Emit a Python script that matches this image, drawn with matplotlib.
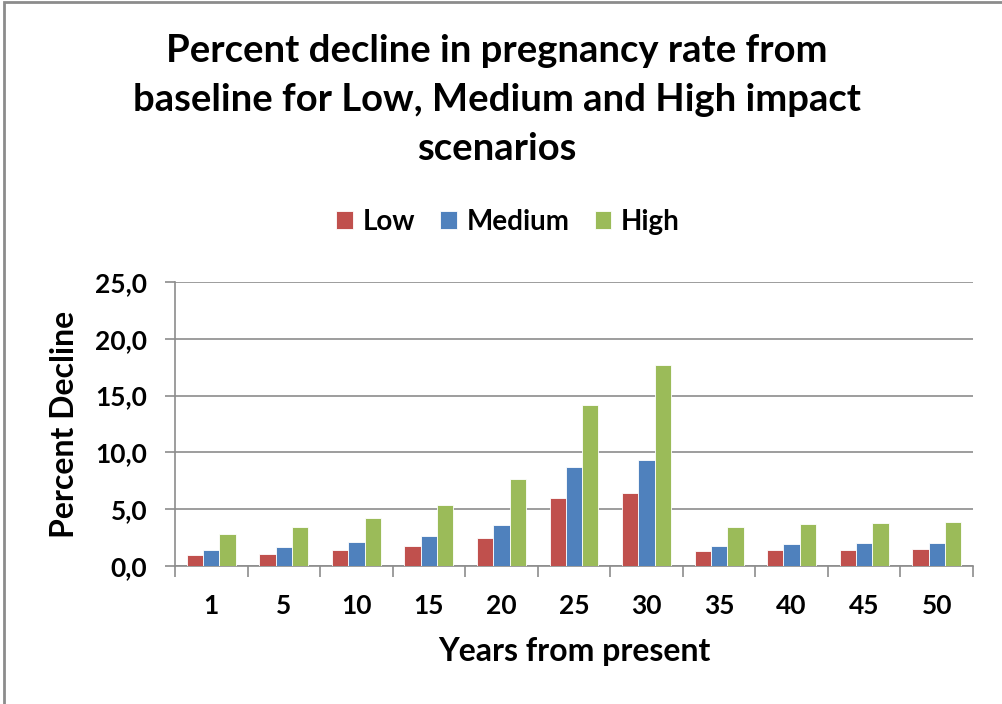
import numpy as np
import matplotlib
matplotlib.use('Agg')
import matplotlib.pyplot as plt
from matplotlib.patches import Rectangle

# ── Data ──────────────────────────────────────────────────────────────────
years = ["1", "5", "10", "15", "20", "25", "30", "35", "40", "45", "50"]
low    = [1.0, 1.1, 1.4, 1.8, 2.5, 6.0, 6.4, 1.3, 1.4, 1.4, 1.5]
medium = [1.4, 1.7, 2.1, 2.6, 3.6, 8.7, 9.3, 1.8, 1.9, 2.0, 2.0]
high   = [2.8, 3.4, 4.2, 5.4, 7.7, 14.2, 17.7, 3.4, 3.7, 3.8, 3.9]
series_names = ["Low", "Medium", "High"]
colors = ["#C0504D", "#4F81BD", "#9BBB59"]

plt.rcParams['font.family'] = ['Lato', 'DejaVu Sans']
plt.rcParams['font.weight'] = 'bold'

W, H = 1002, 704
fig = plt.figure(figsize=(W / 100, H / 100), dpi=100)
ax = fig.add_axes([175 / W, 1 - 566 / H, (973 - 175) / W, (566 - 282) / H])

x = np.arange(len(years))
bw = 0.225
for k, (vals, name, col) in enumerate(zip([low, medium, high], series_names, colors)):
    ax.bar(x + (k - 1) * bw, vals, width=bw, color=col, label=name,
           edgecolor='white', linewidth=0.6, zorder=3)

ax.set_xlim(-0.5, len(years) - 0.5)
ax.set_ylim(0, 25)
ax.set_yticks(np.arange(0, 26, 5))
ax.set_yticklabels([f"{v:.1f}".replace('.', ',') for v in np.arange(0, 26, 5)])
ax.set_xticks(x)
ax.set_xticklabels(years)
ax.set_xticks(np.arange(-0.5, len(years), 1), minor=True)

ax.grid(axis='y', color='#8C8C8C', linewidth=1.2, zorder=0)
for s in ['top', 'right']:
    ax.spines[s].set_visible(False)
for s in ['left', 'bottom']:
    ax.spines[s].set_color('#8C8C8C')
    ax.spines[s].set_linewidth(1.2)

ax.tick_params(axis='x', which='major', length=0, pad=20, labelsize=19)
ax.tick_params(axis='x', which='minor', length=8, color='#8C8C8C', width=1.2)
ax.tick_params(axis='y', length=7, color='#8C8C8C', width=1.2, pad=13, labelsize=19)

ax.set_xlabel("Years from present", fontsize=23, fontweight='bold', labelpad=14)
ax.set_ylabel("Percent Decline", fontsize=23, fontweight='bold', labelpad=12)

fig.text(497 / W, 1 - 100 / H,
         "Percent decline in pregnancy rate from\nbaseline for Low, Medium and High impact\nscenarios",
         ha='center', va='center', fontsize=27.5, fontweight='bold', linespacing=1.55)

fig.legend(loc='center', bbox_to_anchor=(508 / W, 1 - 222 / H), ncol=3, frameon=False,
           fontsize=20, handlelength=0.6, handleheight=0.6, handletextpad=0.35,
           columnspacing=0.9)

# outer chart border
fig.patches.append(Rectangle((4 / W, -0.05), 1.1, 1 - 2 / H + 0.05, transform=fig.transFigure,
                             fill=False, edgecolor='#8C8C8C', linewidth=2))

fig.savefig("out.png", dpi=100)
